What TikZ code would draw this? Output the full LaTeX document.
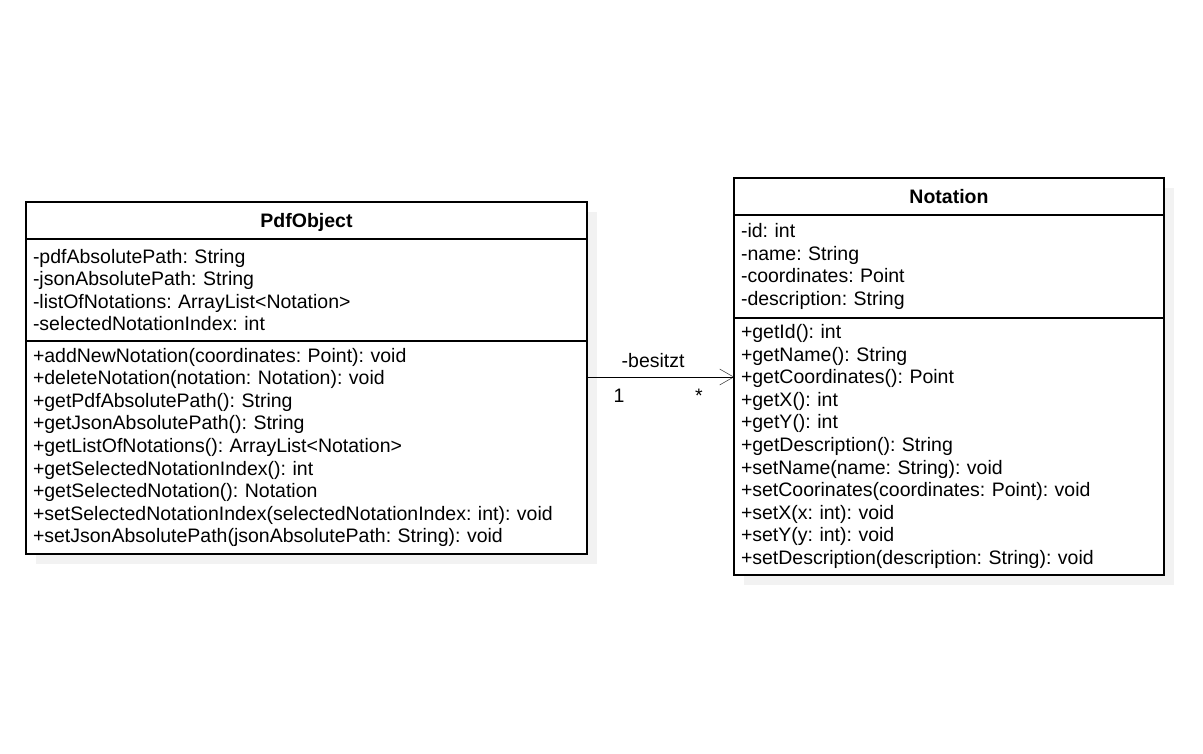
\documentclass[tikz,border=0pt]{standalone}
\usepackage{fontspec}
\setmainfont{Liberation Sans}
\usetikzlibrary{arrows.meta,positioning,calc}
\pgfdeclarelayer{background}
\pgfsetlayers{background,main}
\definecolor{shadowgray}{RGB}{242,242,242}
\frenchspacing

\begin{document}
\begin{tikzpicture}[x=1pt,y=1pt,line width=1.5pt,
   every node/.style={font=\fontsize{19.5}{22.6}\selectfont},
   classname/.style={draw,fill=white,font=\fontsize{19.5}{22.6}\selectfont\bfseries,minimum height=37pt,
      inner sep=0pt,outer sep=0pt,text height=15pt,text depth=0pt},
   classpart/.style={draw,fill=white,align=left,inner xsep=7pt,inner ysep=0pt,outer sep=0pt},
   classshadow/.style={fill=shadowgray,draw=none}]
   \useasboundingbox (0,0) rectangle (1203,753);

   \node[classname,minimum width=561pt] (pdf) at (306.5,532.5) {PdfObject};
   \node[classpart,text width=547pt,minimum height=102pt] (pdfattr) [below=0pt of pdf]
      {-pdfAbsolutePath: String\\-jsonAbsolutePath: String\\-listOfNotations: ArrayList<Notation>\\-selectedNotationIndex: int};
   \node[classpart,text width=547pt,minimum height=213pt] (pdfops) [below=0pt of pdfattr]
      {+addNewNotation(coordinates: Point): void\\+deleteNotation(notation: Notation): void\\+getPdfAbsolutePath(): String\\+getJsonAbsolutePath(): String\\+getListOfNotations(): ArrayList<Notation>\\+getSelectedNotationIndex(): int\\+getSelectedNotation(): Notation\\+setSelectedNotationIndex(selectedNotationIndex: int): void\\+setJsonAbsolutePath(jsonAbsolutePath: String): void};

   \node[classname,minimum width=430pt] (nota) at (949,556.5) {Notation};
   \node[classpart,text width=416pt,minimum height=103pt] (notaattr) [below=0pt of nota]
      {-id: int\\-name: String\\-coordinates: Point\\-description: String};
   \node[classpart,text width=416pt,minimum height=257pt] (notaops) [below=0pt of notaattr]
      {+getId(): int\\+getName(): String\\+getCoordinates(): Point\\+getX(): int\\+getY(): int\\+getDescription(): String\\+setName(name: String): void\\+setCoorinates(coordinates: Point): void\\+setX(x: int): void\\+setY(y: int): void\\+setDescription(description: String): void};

   \begin{pgfonlayer}{background}
      \path[classshadow] ($(pdf.north west)+(10,-10)$) rectangle ($(pdfops.south east)+(10,-10)$);
      \path[classshadow] ($(nota.north west)+(10,-10)$) rectangle ($(notaops.south east)+(10,-10)$);
   \end{pgfonlayer}

   \coordinate (linkstart) at ($(pdfops.north east)+(0,-36)$);
   \draw[-{Straight Barb[length=14pt,width=16pt]}] (linkstart) -- (linkstart -| notaops.west)
      node[pos=0.45,anchor=base,yshift=9pt] {-besitzt}
      node[pos=0,anchor=north,xshift=32pt,yshift=-8.5pt] {1}
      node[pos=1,anchor=north,xshift=-35pt,yshift=-8.5pt] {*};
\end{tikzpicture}
\end{document}
